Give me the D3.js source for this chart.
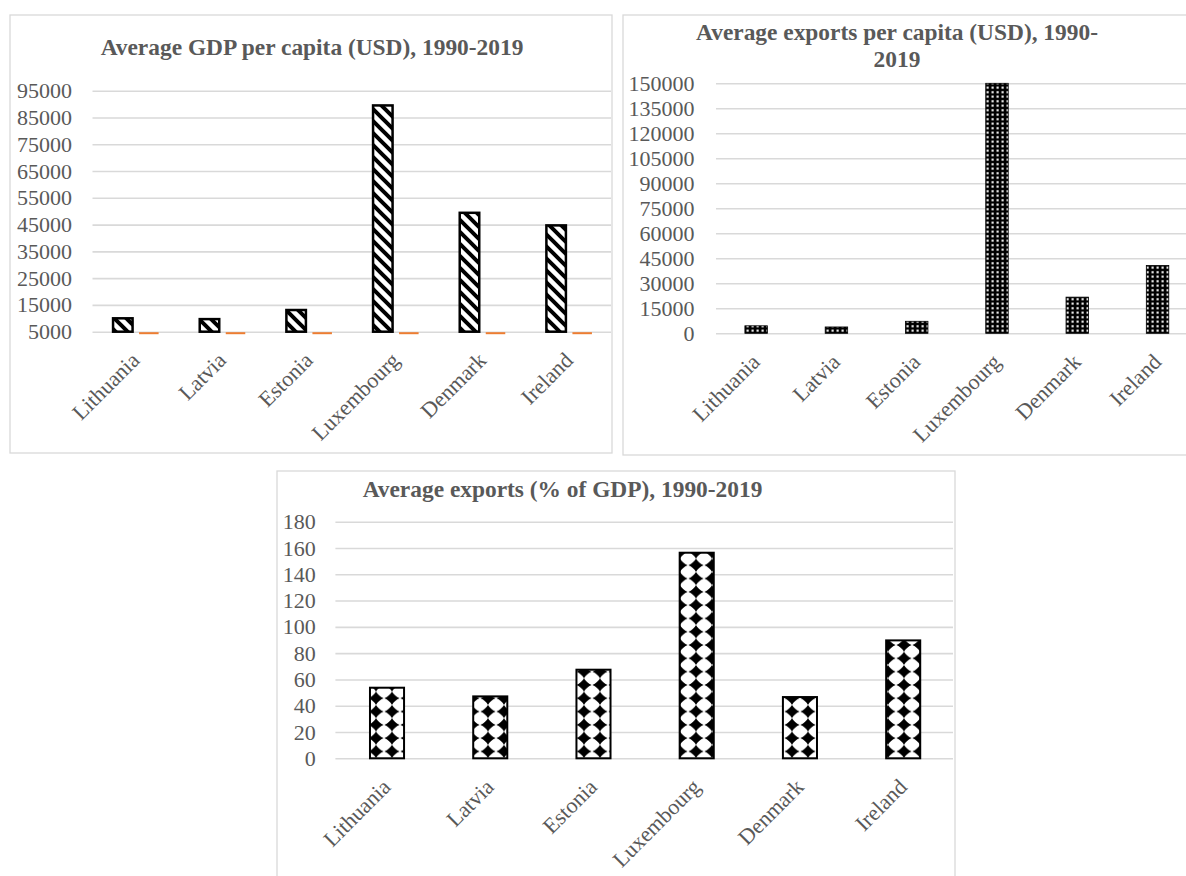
<!DOCTYPE html>
<html>
<head>
<meta charset="utf-8">
<script src="https://cdn.jsdelivr.net/npm/d3@7"></script>
<style>
  body { margin: 0; background: #fff; }
  svg text { font-family: "Liberation Serif", "Times New Roman", serif; }
</style>
</head>
<body>
<svg id="page" width="1186" height="876"></svg>
<script>
// data
const countries = ["Lithuania", "Latvia", "Estonia", "Luxembourg", "Denmark", "Ireland"];
const gdpPerCapita = [10000, 9700, 13100, 89500, 49400, 44700];
const gdpSecondSeries = [54, 47, 67, 156, 47, 90];   // far below the 5000 floor, shows as a flat orange line
const exportsPerCapita = [4500, 3800, 7200, 150000, 21700, 40700];
const exportsShare = [53.7, 47.1, 67.4, 156.4, 46.6, 89.7];

const gdpTicks = [5000, 15000, 25000, 35000, 45000, 55000, 65000, 75000, 85000, 95000];
const exportsTicks = [0, 15000, 30000, 45000, 60000, 75000, 90000, 105000, 120000, 135000, 150000];
const shareTicks = [0, 20, 40, 60, 80, 100, 120, 140, 160, 180];

const svg = d3.select("#page");
const textColor = "#595959";
const gridColor = "#d9d9d9";

// fill patterns
const defs = svg.append("defs");

const stripes = defs.append("pattern")
    .attr("id", "stripes")
    .attr("patternUnits", "userSpaceOnUse")
    .attr("width", 12).attr("height", 12);
stripes.append("rect").attr("width", 12).attr("height", 12).attr("fill", "#fff");
stripes.append("path")
    .attr("d", "M-3,-3 L15,15 M-3,9 L3,15 M9,-3 L15,3")
    .attr("stroke", "#000")
    .attr("stroke-width", 4);

const dots = defs.append("pattern")
    .attr("id", "dots")
    .attr("patternUnits", "userSpaceOnUse")
    .attr("width", 5).attr("height", 4.5);
dots.append("rect").attr("width", 5).attr("height", 4.5).attr("fill", "#000");
dots.append("rect").attr("x", 1.5).attr("y", 1.2).attr("width", 2.2).attr("height", 2).attr("fill", "#fff");

const diamonds = defs.append("pattern")
    .attr("id", "diamonds")
    .attr("patternUnits", "userSpaceOnUse")
    .attr("width", 16).attr("height", 13.3);
diamonds.append("rect").attr("width", 16).attr("height", 13.3).attr("fill", "#fff");
(function () {
    const cx = 8, cy = 6.65, rx = 7.6, ry = 6.65, k = 0.33;
    diamonds.append("path")
        .attr("d",
            `M${cx},${cy - ry} Q${cx + rx * k},${cy - ry * k} ${cx + rx},${cy}` +
            ` Q${cx + rx * k},${cy + ry * k} ${cx},${cy + ry}` +
            ` Q${cx - rx * k},${cy + ry * k} ${cx - rx},${cy}` +
            ` Q${cx - rx * k},${cy - ry * k} ${cx},${cy - ry} Z`)
        .attr("fill", "#000");
})();

function drawChart(cfg) {
    const g = svg.append("g");

    // chart area border
    g.append("rect")
        .attr("x", cfg.box[0]).attr("y", cfg.box[1])
        .attr("width", cfg.box[2]).attr("height", cfg.box[3])
        .attr("fill", "none")
        .attr("stroke", gridColor)
        .attr("stroke-width", 1.3);

    const x = d3.scaleBand()
        .domain(countries)
        .range([cfg.left, cfg.right])
        .paddingInner(cfg.padInner)
        .paddingOuter(cfg.padInner / 2);

    const y = d3.scaleLinear()
        .domain([cfg.ticks[0], cfg.ticks[cfg.ticks.length - 1]])
        .range([cfg.bottom, cfg.top])
        .clamp(true);

    // gridlines
    const grid = g.append("g")
        .attr("transform", `translate(${cfg.left},0)`)
        .call(d3.axisLeft(y).tickValues(cfg.ticks).tickSize(-(cfg.gridRight - cfg.left)).tickFormat(""));
    grid.select(".domain").remove();
    grid.selectAll("line").attr("stroke", gridColor).attr("stroke-width", 1.6);

    // y tick labels
    const yAxis = g.append("g")
        .attr("transform", `translate(${cfg.labelX},0)`)
        .call(d3.axisLeft(y).tickValues(cfg.ticks).tickSize(0).tickPadding(0).tickFormat(d3.format("d")));
    yAxis.select(".domain").remove();
    yAxis.selectAll("text")
        .attr("fill", textColor)
        .style("font-size", "22px")
        .style("font-family", "'Liberation Serif', serif");

    // bars
    let barX = c => x(c), barW = x.bandwidth();
    let sub = null;
    if (cfg.second) {
        sub = d3.scaleBand()
            .domain(["main", "second"])
            .range([0, x.bandwidth()])
            .paddingInner(0.25)
            .paddingOuter(0.79);
        barX = c => x(c) + sub("main");
        barW = sub.bandwidth();
    }

    g.selectAll(".bar")
        .data(countries.map((c, i) => ({ c, v: cfg.values[i] })))
        .enter().append("rect")
        .attr("class", "bar")
        .attr("x", d => barX(d.c))
        .attr("y", d => y(d.v))
        .attr("width", barW)
        .attr("height", d => y(cfg.ticks[0]) - y(d.v))
        .attr("fill", `url(#${cfg.pattern})`)
        .attr("stroke", "#000")
        .attr("stroke-width", cfg.barStroke);

    if (cfg.second) {
        g.selectAll(".second")
            .data(countries.map((c, i) => ({ c, v: cfg.second[i] })))
            .enter().append("line")
            .attr("class", "second")
            .attr("x1", d => x(d.c) + sub("second"))
            .attr("x2", d => x(d.c) + sub("second") + sub.bandwidth())
            .attr("y1", d => y(d.v) + 1.5)
            .attr("y2", d => y(d.v) + 1.5)
            .attr("stroke", "#ED7D31")
            .attr("stroke-width", 2);
    }

    // category labels, rotated
    g.selectAll(".xlab")
        .data(countries)
        .enter().append("text")
        .attr("class", "xlab")
        .attr("transform", c => `translate(${x(c) + x.bandwidth() / 2 + 5},${cfg.bottom + 30}) rotate(-45)`)
        .attr("text-anchor", "end")
        .attr("fill", textColor)
        .style("font-size", "22px")
        .text(c => c);

    // title
    const title = g.append("text")
        .attr("x", cfg.titleX)
        .attr("y", cfg.titleY)
        .attr("text-anchor", "middle")
        .attr("fill", textColor)
        .style("font-size", "23.4px")
        .style("font-weight", "bold");
    cfg.title.forEach((line, i) => {
        title.append("tspan")
            .attr("x", cfg.titleX)
            .attr("dy", i === 0 ? 0 : 26.5)
            .text(line);
    });
}

// Chart 1: GDP per capita
drawChart({
    box: [10, 15, 602, 438],
    left: 92.5, right: 612.5, padInner: 0, gridRight: 611,
    top: 90.7, bottom: 331.7, labelX: 72,
    ticks: gdpTicks, values: gdpPerCapita, second: gdpSecondSeries,
    pattern: "stripes", barStroke: 2.5,
    title: ["Average GDP per capita (USD), 1990-2019"], titleX: 312, titleY: 55
});

// Chart 2: exports per capita
drawChart({
    box: [623, 15, 600, 440],
    left: 716, right: 1197.7, padInner: 0.72, gridRight: 1186,
    top: 83.3, bottom: 333.3, labelX: 694.5,
    ticks: exportsTicks, values: exportsPerCapita,
    pattern: "dots", barStroke: 0.8,
    title: ["Average exports per capita (USD), 1990-", "2019"], titleX: 897, titleY: 40
});

// Chart 3: exports as share of GDP
drawChart({
    box: [277, 471, 678, 430],
    left: 335.4, right: 954.8, padInner: 0.67, gridRight: 953,
    top: 521.7, bottom: 758.3, labelX: 315.7,
    ticks: shareTicks, values: exportsShare,
    pattern: "diamonds", barStroke: 2,
    title: ["Average exports (% of GDP), 1990-2019"], titleX: 562.5, titleY: 496.7
});
</script>
</body>
</html>
